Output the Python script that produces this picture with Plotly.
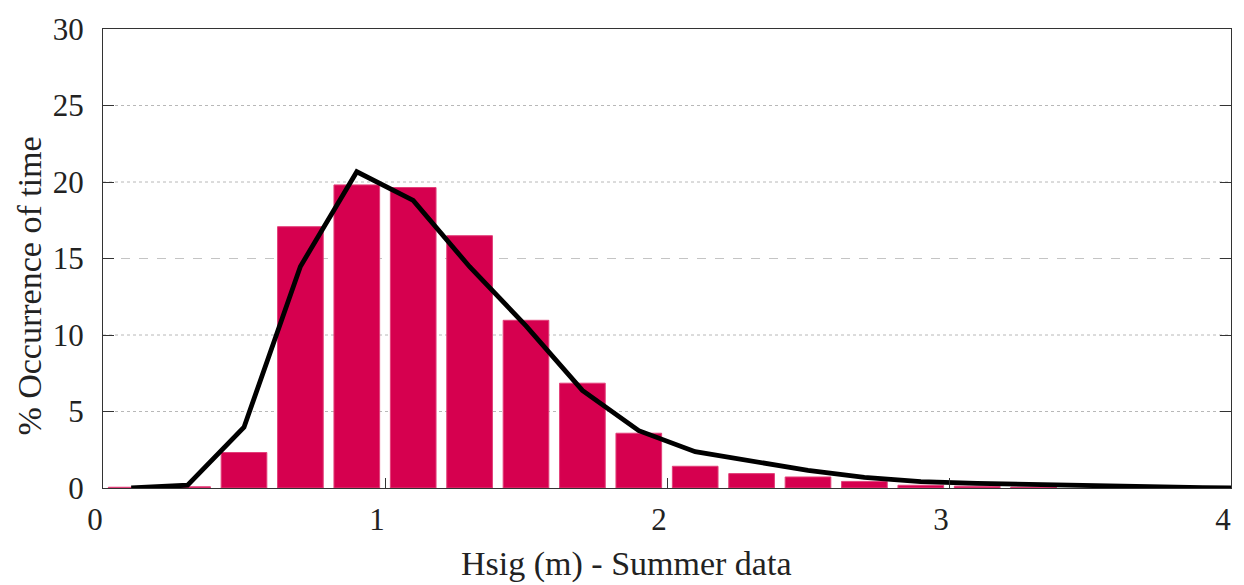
import plotly.graph_objects as go

# Histogram of significant wave height (summer), bin centres in metres
bin_centres = [0.1, 0.3, 0.5, 0.7, 0.9, 1.1, 1.3, 1.5, 1.7, 1.9, 2.1, 2.3, 2.5, 2.7, 2.9, 3.1, 3.3]
occurrence = [0.05, 0.08, 2.32, 17.08, 19.81, 19.64, 16.49, 10.96, 6.85, 3.58, 1.42, 0.94, 0.72, 0.43, 0.18, 0.12, 0.06]

# Fitted distribution curve
fit_x = [0.1, 0.3, 0.5, 0.7, 0.9, 1.1, 1.3, 1.5, 1.7, 1.9, 2.1, 2.3, 2.5, 2.7, 2.9, 3.1, 3.3, 3.5, 3.7, 3.9, 4.1]
fit_y = [0.0, 0.18, 3.97, 14.48, 20.67, 18.8, 14.46, 10.6, 6.38, 3.75, 2.37, 1.73, 1.15, 0.7, 0.42, 0.3, 0.22, 0.15, 0.12, 0.02, 0.0]

x_ticks = [0, 1, 2, 3, 4]
y_ticks = [0, 5, 10, 15, 20, 25, 30]
grid_dotted = [5, 10, 20, 25]
grid_dashed = [15]

FONT = "Times New Roman, Liberation Serif, serif"

fig = go.Figure()
fig.add_trace(go.Bar(
    x=bin_centres, y=occurrence, width=0.162,
    marker=dict(color="#d6004f", line=dict(color="#e2407a", width=1)),
    showlegend=False,
))
fig.add_trace(go.Scatter(
    x=fit_x, y=fit_y, mode="lines",
    line=dict(color="black", width=4.8),
    showlegend=False,
))

shapes = []
for v in grid_dotted:
    shapes.append(dict(type="line", xref="paper", x0=0, x1=1, yref="y", y0=v, y1=v,
                       line=dict(color="#b8b8b8", width=1, dash="dot"), layer="below"))
for v in grid_dashed:
    shapes.append(dict(type="line", xref="paper", x0=0, x1=1, yref="y", y0=v, y1=v,
                       line=dict(color="#c4c4c4", width=1, dash="dash"), layer="below"))

fig.update_layout(
    width=1244, height=585,
    margin=dict(l=103, r=12, t=19, b=97),
    paper_bgcolor="white", plot_bgcolor="white",
    font=dict(family=FONT, size=31, color="#222"),
    shapes=shapes,
    xaxis=dict(
        range=[0, 4], tickvals=x_ticks, ticktext=[str(t) for t in x_ticks],
        showgrid=False, zeroline=False,
        showline=True, linecolor="#333", linewidth=1, mirror=True,
        ticks="inside", ticklen=10, tickcolor="#333",
        ticklabelstandoff=4, ticklabelshift=-8,
    ),
    yaxis=dict(
        range=[0, 30], tickvals=y_ticks, ticktext=[str(t) for t in y_ticks],
        showgrid=False, zeroline=False,
        showline=True, linecolor="#333", linewidth=1, mirror="ticks",
        ticks="inside", ticklen=11, tickcolor="#333",
        ticklabelstandoff=12,
    ),
    annotations=[
        dict(text="Hsig (m) - Summer data", xref="paper", yref="paper",
             x=(627 - 103) / (1244 - 115), y=-0.165, xanchor="center", yanchor="middle",
             showarrow=False, font=dict(family=FONT, size=34, color="#222")),
        dict(text="% Occurrence of time", xref="paper", yref="paper",
             x=-0.066, y=0.44, xanchor="center", yanchor="middle", textangle=-90,
             showarrow=False, font=dict(family=FONT, size=34, color="#222")),
    ],
)

fig.write_html("out.html")
